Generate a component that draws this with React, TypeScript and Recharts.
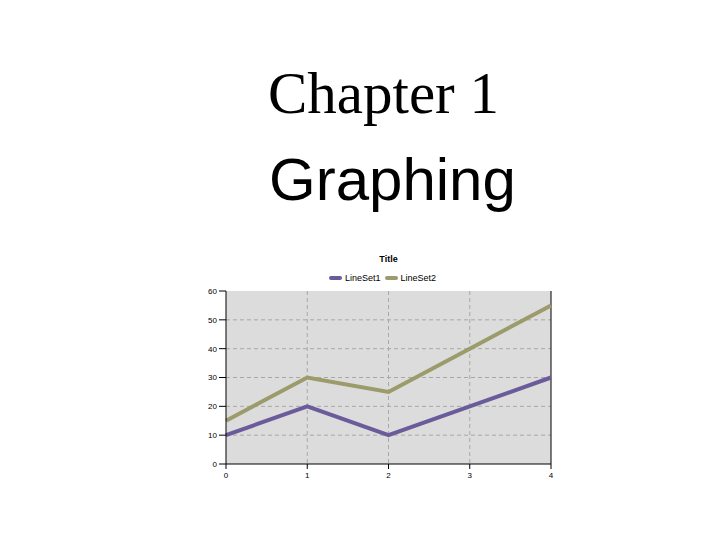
import React from "react";
import {
  LineChart,
  Line,
  XAxis,
  YAxis,
  CartesianGrid,
  Legend,
  ReferenceLine,
} from "recharts";

const xValues = [0, 1, 2, 3, 4];
const lineSet1 = [10, 20, 10, 20, 30];
const lineSet2 = [15, 30, 25, 40, 55];
const yTicks = [0, 10, 20, 30, 40, 50, 60];
const gridY = [10, 20, 30, 40, 50];
const gridX = [1, 2, 3];
const seriesNames = ["LineSet1", "LineSet2"];
const seriesColors = ["#6b5b9b", "#9b9b6b"];

const data = xValues.map((x, i) => ({
  x,
  LineSet1: lineSet1[i],
  LineSet2: lineSet2[i],
}));

const LegendContent = () => (
  <div
    style={{
      display: "flex",
      justifyContent: "center",
      alignItems: "center",
      fontFamily: "'Liberation Sans', Arial, sans-serif",
      fontSize: 9,
      color: "#000",
      height: 14,
    }}
  >
    {seriesNames.map((n, i) => (
      <div key={n} style={{ display: "flex", alignItems: "center", marginRight: 4 }}>
        <span
          style={{
            display: "inline-block",
            width: 13,
            height: 4,
            borderRadius: 2,
            background: seriesColors[i],
            marginRight: 3,
          }}
        />
        <span>{n}</span>
      </div>
    ))}
  </div>
);

export default function App() {
  return (
    <div style={{ position: "absolute", left: 0, top: 0, width: 720, height: 540, background: "#fff" }}>
      <div
        style={{
          position: "absolute",
          left: 268,
          top: 58,
          fontFamily: "'Liberation Serif', 'Times New Roman', serif",
          fontSize: 59,
          lineHeight: "70px",
          color: "#000",
          whiteSpace: "nowrap",
        }}
      >
        Chapter 1
      </div>
      <div
        style={{
          position: "absolute",
          left: 269,
          top: 145,
          fontFamily: "'Liberation Sans', Arial, sans-serif",
          fontSize: 60,
          lineHeight: "70px",
          color: "#000",
          whiteSpace: "nowrap",
        }}
      >
        Graphing
      </div>
      <div
        style={{
          position: "absolute",
          left: 226,
          width: 325,
          top: 254,
          textAlign: "center",
          fontFamily: "'Liberation Sans', Arial, sans-serif",
          fontSize: 9,
          fontWeight: "bold",
          color: "#000",
        }}
      >
        Title
      </div>
      <div style={{ position: "absolute", left: 0, top: 0 }}>
        <LineChart
          width={720}
          height={540}
          data={data}
          margin={{ top: 277, right: 169, bottom: 56, left: 196 }}
        >
          <CartesianGrid
            fill="#dcdcdc"
            stroke="#a8a8a8"
            strokeDasharray="4 3"
            horizontalValues={gridY}
            verticalValues={gridX}
          />
          <XAxis
            dataKey="x"
            type="number"
            domain={[0, 4]}
            ticks={xValues}
            stroke="#000"
            tickSize={5}
            tickMargin={3}
            tick={{ fontSize: 8, fill: "#000", fontFamily: "'Liberation Sans', Arial, sans-serif" }}
            height={20}
          />
          <YAxis
            type="number"
            domain={[0, 60]}
            ticks={yTicks}
            stroke="#000"
            tickSize={7}
            tickMargin={2}
            width={30}
            tick={{ fontSize: 8, fill: "#000", fontFamily: "'Liberation Sans', Arial, sans-serif" }}
          />
          <ReferenceLine x={4} stroke="#000" strokeWidth={1} />
          <Legend
            verticalAlign="top"
            height={14}
            wrapperStyle={{ top: 271, left: 212, width: 345 }}
            content={<LegendContent />}
          />
          <Line
            type="linear"
            dataKey="LineSet1"
            stroke={seriesColors[0]}
            strokeWidth={4}
            dot={false}
            isAnimationActive={false}
          />
          <Line
            type="linear"
            dataKey="LineSet2"
            stroke={seriesColors[1]}
            strokeWidth={4}
            dot={false}
            isAnimationActive={false}
          />
        </LineChart>
      </div>
    </div>
  );
}
